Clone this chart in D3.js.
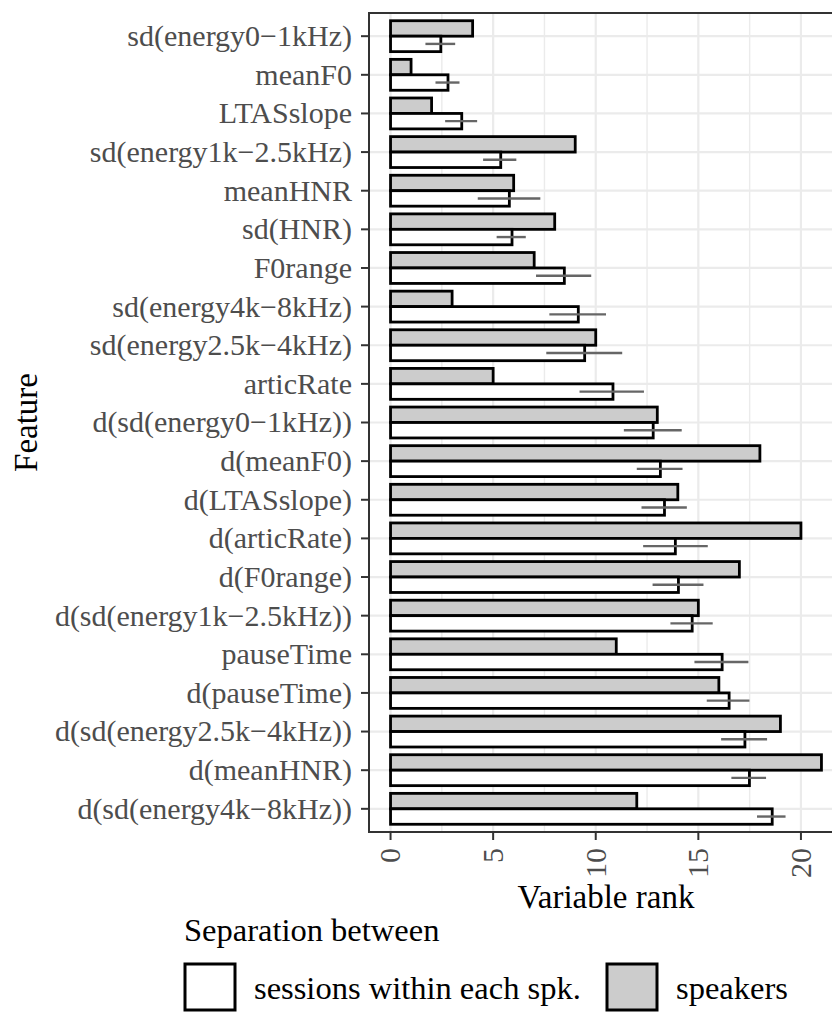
<!DOCTYPE html>
<head>
<meta charset="utf-8">
<script src="https://d3js.org/d3.v7.min.js"></script>
<style>
  body { margin: 0; background: #fff; }
  svg { font-family: "Liberation Serif", "Times New Roman", serif; }
  .grid line { stroke: #ebebeb; }
  .tick-label { fill: #4d4d4d; font-size: 30px; }
  .title { fill: #000; font-size: 33px; }
  .legend { fill: #000; font-size: 32.5px; }
</style>
</head>
<body>
<script>
// features from top to bottom
var features = ["sd(energy0\u22121kHz)", "meanF0", "LTASslope", "sd(energy1k\u22122.5kHz)", "meanHNR",
  "sd(HNR)", "F0range", "sd(energy4k\u22128kHz)", "sd(energy2.5k\u22124kHz)", "articRate",
  "d(sd(energy0\u22121kHz))", "d(meanF0)", "d(LTASslope)", "d(articRate)", "d(F0range)",
  "d(sd(energy1k\u22122.5kHz))", "pauseTime", "d(pauseTime)", "d(sd(energy2.5k\u22124kHz))",
  "d(meanHNR)", "d(sd(energy4k\u22128kHz))"];
var speakers = [4, 1, 2, 9, 6, 8, 7, 3, 10, 5, 13, 18, 14, 20, 17, 15, 11, 16, 19, 21, 12];
var sessions = [2.45, 2.8, 3.47, 5.37, 5.79, 5.92, 8.47, 9.15, 9.46, 10.84, 12.8, 13.15, 13.35,
  13.88, 14.03, 14.7, 16.16, 16.5, 17.27, 17.49, 18.6];
var errLow = [1.70, 2.19, 2.66, 4.51, 4.25, 5.17, 7.09, 7.74, 7.59, 9.21, 11.37, 12.0, 12.23,
  12.31, 12.77, 13.64, 14.81, 15.41, 16.11, 16.61, 17.86];
var errHigh = [3.15, 3.36, 4.22, 6.13, 7.30, 6.59, 9.78, 10.5, 11.29, 12.35, 14.19, 14.23, 14.44,
  15.46, 15.25, 15.7, 17.44, 17.49, 18.35, 18.3, 19.25];
var xTicks = [0, 5, 10, 15, 20];
var xMinor = [2.5, 7.5, 12.5, 17.5, 22.5];
var legendLabels = ["sessions within each spk.", "speakers"];

var W = 832, H = 1012;
var panel = {left: 369, right: 843, top: 13, bottom: 832};

var svg = d3.select("body").append("svg").attr("width", W).attr("height", H);

var x = d3.scaleLinear().domain([-1.05, 22.05]).range([panel.left, panel.right]);
var y = d3.scaleBand().domain(features).range([panel.top, panel.bottom])
  .paddingInner(0).paddingOuter(0.1);
var bw = y.bandwidth();
var half = bw * 0.4;

var grid = svg.append("g").attr("class", "grid");
grid.selectAll(".minor").data(xMinor).enter().append("line")
  .attr("x1", d => x(d)).attr("x2", d => x(d))
  .attr("y1", panel.top).attr("y2", panel.bottom).attr("stroke-width", 1.4);
grid.selectAll(".vmaj").data(xTicks).enter().append("line")
  .attr("x1", d => x(d)).attr("x2", d => x(d))
  .attr("y1", panel.top).attr("y2", panel.bottom).attr("stroke-width", 2.2);
grid.selectAll(".hmaj").data(features).enter().append("line")
  .attr("x1", panel.left).attr("x2", panel.right)
  .attr("y1", d => y(d) + bw / 2).attr("y2", d => y(d) + bw / 2).attr("stroke-width", 2.2);

var rows = features.map(function(f, i) {
  return {f: f, spk: speakers[i], ses: sessions[i], lo: errLow[i], hi: errHigh[i]};
});

// speakers bars (upper half)
svg.append("g").selectAll("rect").data(rows).enter().append("rect")
  .attr("x", x(0)).attr("y", d => y(d.f) + bw / 2 - half)
  .attr("width", d => x(d.spk) - x(0)).attr("height", half)
  .attr("fill", "#cccccc").attr("stroke", "#000").attr("stroke-width", 2.8);

// sessions bars (lower half)
svg.append("g").selectAll("rect").data(rows).enter().append("rect")
  .attr("x", x(0)).attr("y", d => y(d.f) + bw / 2)
  .attr("width", d => x(d.ses) - x(0)).attr("height", half)
  .attr("fill", "#fff").attr("stroke", "#000").attr("stroke-width", 2.8);

// error bars
svg.append("g").selectAll("line").data(rows).enter().append("line")
  .attr("x1", d => x(d.lo)).attr("x2", d => x(d.hi))
  .attr("y1", d => y(d.f) + bw / 2 + half / 2).attr("y2", d => y(d.f) + bw / 2 + half / 2)
  .attr("stroke", "#666").attr("stroke-width", 2.4);

// panel border
svg.append("rect").attr("x", panel.left).attr("y", panel.top)
  .attr("width", panel.right - panel.left).attr("height", panel.bottom - panel.top)
  .attr("fill", "none").attr("stroke", "#333").attr("stroke-width", 2);

// y axis
var ya = svg.append("g");
ya.selectAll("line").data(features).enter().append("line")
  .attr("x1", panel.left - 8).attr("x2", panel.left)
  .attr("y1", d => y(d) + bw / 2).attr("y2", d => y(d) + bw / 2)
  .attr("stroke", "#333").attr("stroke-width", 2);
ya.selectAll("text").data(features).enter().append("text")
  .attr("class", "tick-label").attr("text-anchor", "end")
  .attr("x", panel.left - 17).attr("y", d => y(d) + bw / 2).attr("dy", "0.33em")
  .text(d => d);

// x axis
var xa = svg.append("g");
xa.selectAll("line").data(xTicks).enter().append("line")
  .attr("x1", d => x(d)).attr("x2", d => x(d))
  .attr("y1", panel.bottom).attr("y2", panel.bottom + 8)
  .attr("stroke", "#333").attr("stroke-width", 2);
xa.selectAll("text").data(xTicks).enter().append("text")
  .attr("class", "tick-label").attr("text-anchor", "end")
  .attr("transform", d => "translate(" + x(d) + "," + (panel.bottom + 16) + ") rotate(-90)")
  .attr("dy", "0.33em")
  .text(d => d);

svg.append("text").attr("class", "title").attr("text-anchor", "middle")
  .attr("x", (panel.left + panel.right) / 2).attr("y", 908).text("Variable rank");
svg.append("text").attr("class", "title").attr("text-anchor", "middle")
  .attr("transform", "translate(37," + (panel.top + panel.bottom) / 2 + ") rotate(-90)")
  .text("Feature");

// legend
svg.append("text").attr("class", "legend")
  .attr("x", 184).attr("y", 941).text("Separation between");
var keyX = [185, 607];
var keyFill = ["#fff", "#cccccc"];
legendLabels.forEach(function(lab, i) {
  svg.append("rect").attr("x", keyX[i]).attr("y", 964).attr("width", 50).attr("height", 46)
    .attr("fill", keyFill[i]).attr("stroke", "#000").attr("stroke-width", 3);
  svg.append("text").attr("class", "legend")
    .attr("x", keyX[i] + 69).attr("y", 999).text(lab);
});
</script>
</body>
